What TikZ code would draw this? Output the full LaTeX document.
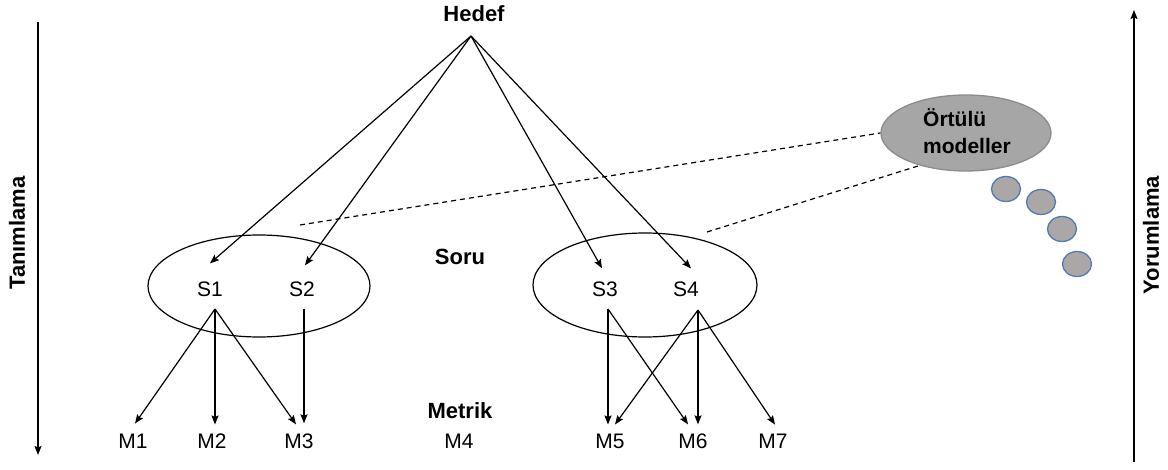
\documentclass[tikz,border=0pt]{standalone}
\usepackage{fontspec}
\setmainfont{Liberation Sans}
\usetikzlibrary{arrows.meta,calc,shapes.geometric}
\definecolor{ovalgray}{HTML}{A6A6A6}
\definecolor{ovaledge}{HTML}{8C8C8C}
\definecolor{dotgray}{HTML}{ABA7A7}
\definecolor{dotblue}{HTML}{4F7AB8}
\tikzset{
  lbl/.style={inner sep=0pt,font=\fontsize{21}{25}\selectfont},
  blbl/.style={inner sep=0pt,font=\fontsize{22}{26}\selectfont\bfseries},
  arr/.style={line width=1.2pt,-{Stealth[length=9pt,width=7pt,inset=1.5pt]}},
  dsh/.style={line width=1.2pt,dash pattern=on 5pt off 4pt},
  dot/.style={draw=dotblue,fill=dotgray,line width=1.3pt}
}
\begin{document}
\begin{tikzpicture}[x=1pt,y=-1pt]
\useasboundingbox (0,0) rectangle (1168,470);
% side arrows
\coordinate (Ltop) at (38,22);
\coordinate (Lbot) at (38,455);
\draw[arr] (Ltop) -- (Lbot);
\node[blbl,rotate=90] (tan) at (17,233) {Tanımlama};
\coordinate (Rbot) at (1134,462);
\coordinate (Rtop) at (1134,10);
\draw[arr] (Rbot) -- (Rtop);
\node[blbl,rotate=90] (yor) at (1151,235) {Yorumlama};
% ellipses
\draw[line width=1.2pt] (259,286) ellipse [x radius=111,y radius=51];
\draw[line width=1.2pt] (645,285) ellipse [x radius=112,y radius=52];
% labels
\node[blbl] (hedef) at (474,14) {Hedef};
\node[blbl] (soru) at (460,257) {Soru};
\node[blbl] (metrik) at (460,411) {Metrik};
\node[lbl] (S1) at (210,289) {S1};
\node[lbl] (S2) at (302,289) {S2};
\node[lbl] (S3) at (605,289) {S3};
\node[lbl] (S4) at (686,289) {S4};
\node[lbl] (M1) at (133,441) {M1};
\node[lbl] (M2) at (212,441) {M2};
\node[lbl] (M3) at (299,441) {M3};
\node[lbl] (M4) at (459,441) {M4};
\node[lbl] (M5) at (610,441) {M5};
\node[lbl] (M6) at (693,441) {M6};
\node[lbl] (M7) at (773,441) {M7};
% hedef arrows
\coordinate (apex) at (471,36);
\draw[arr] (apex) -- ($(S1.north)+(0,-18)$);
\draw[arr] (apex) -- ($(S2.north)+(3,-16)$);
\draw[arr] (apex) -- ($(S3.north)+(-3,-13)$);
\draw[arr] (apex) -- ($(S4.north)+(5,-13)$);
% question to metric arrows
\coordinate (s1b) at (215,309);
\coordinate (s2b) at (304,309);
\coordinate (s3b) at (608,309);
\coordinate (s4b) at (698,310);
\draw[arr] (s1b) -- ($(M1.north)+(2,-10)$);
\draw[arr] (s1b) -- ($(M2.north)+(3,-9)$);
\draw[arr] (s1b) -- ($(M3.north)+(-3,-9)$);
\draw[arr] (s2b) -- ($(M3.north)+(5,-10)$);
\draw[arr] (s3b) -- ($(M5.north)+(-2,-9)$);
\draw[arr] (s3b) -- ($(M6.north)+(-5,-9)$);
\draw[arr] (s4b) -- ($(M5.north)+(5,-9)$);
\draw[arr] (s4b) -- ($(M6.north)+(5,-9)$);
\draw[arr] (s4b) -- ($(M7.north)+(2,-9)$);
% implicit models
\node[draw=ovaledge,fill=ovalgray,line width=1.3pt,ellipse,minimum width=170pt,minimum height=76pt,inner sep=0pt] (ort) at (966,133) {};
\node[inner sep=0pt,align=left,anchor=west,font=\fontsize{21}{27}\selectfont\bfseries] (orttxt) at (923,131) {Örtülü\\modeller};
\coordinate (d1) at (300,225);
\coordinate (d2) at (707,232);
\draw[dsh] (d1) -- (ort.west);
\draw[dsh] (d2) -- (ort.-145);
% dots
\draw[dot] (1006,189) ellipse [x radius=14.5,y radius=12.5];
\draw[dot] (1041,202) ellipse [x radius=14.5,y radius=12.5];
\draw[dot] (1062,229) ellipse [x radius=14.5,y radius=12.5];
\draw[dot] (1077,264) ellipse [x radius=14.5,y radius=12.5];
\end{tikzpicture}
\end{document}
